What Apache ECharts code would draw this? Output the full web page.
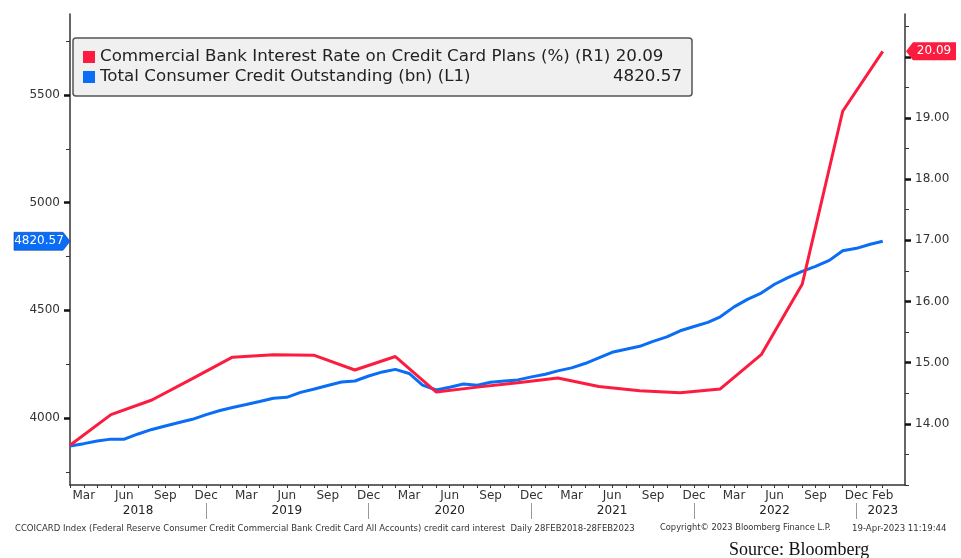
<!DOCTYPE html>
<html>
<head>
<meta charset="utf-8">
<script src="https://cdn.jsdelivr.net/npm/echarts@6/dist/echarts.min.js"></script>
<style>html,body{margin:0;padding:0;background:#fff;}#chart{width:961px;height:558px;}</style>
</head>
<body>
<div id="chart"></div>
<script>
// ---- data ----
var startYear = 2018, startMonth = 1; // Feb 2018 (0-based month)
var monthCount = 61;                  // Feb 2018 .. Feb 2023 month ends
var consumerCredit = [3870, 3881, 3893, 3902, 3902, 3926, 3947, 3963, 3979, 3994, 4016, 4035,
  4049, 4063, 4077, 4092, 4096, 4119, 4135, 4151, 4167, 4172, 4195, 4214,
  4226, 4207, 4153, 4130, 4143, 4158, 4152, 4166, 4172, 4177, 4191, 4203,
  4219, 4233, 4253, 4279, 4305, 4319, 4333, 4356, 4377, 4405, 4425, 4444,
  4470, 4516, 4551, 4580, 4621, 4653, 4681, 4704, 4732, 4777, 4788, 4807, 4820.57];
var cardRate = [13.65, 14.15, 14.39, 14.74, 15.09, 15.13, 15.12, 14.88, 15.10, 14.52, 14.60,
  14.67, 14.75, 14.61, 14.54, 14.51, 14.57, 15.13, 16.28, 19.11, 20.09]; // quarterly: Feb, May, Aug, Nov
var rateName = 'Commercial Bank Interest Rate on Credit Card Plans (%) (R1)';
var creditName = 'Total Consumer Credit Outstanding (bn) (L1)';
var lastRate = '20.09', lastCredit = '4820.57';
var leftLabels = [4000, 4500, 5000, 5500];
var leftMinor = [3750, 4250, 4750, 5250, 5750];
var rightLabels = [14, 15, 16, 17, 18, 19, 20];
var rightMinor = [13, 13.5, 14.5, 15.5, 16.5, 17.5, 18.5, 19.5, 20.5];
var monthNames = ['Jan','Feb','Mar','Apr','May','Jun','Jul','Aug','Sep','Oct','Nov','Dec'];
var monthLabelIdx = [1,4,7,10,13,16,19,22,25,28,31,34,37,40,43,46,49,52,55,58,60];
var yearLabelIdx = [5,16,28,40,52,60];
var yearSepIdx = [10,22,34,46,58];
var xMin = Date.UTC(2018, 1, 28), xMax = Date.UTC(2023, 3, 19);

// ---- build ----
var dates = [];
for (var i = 0; i < monthCount; i++) dates.push(Date.UTC(startYear, startMonth + i + 1, 0));
var blueData = consumerCredit.map(function (v, i) { return [dates[i], v]; });
var redData = cardRate.map(function (v, k) { return [dates[k * 3], v]; });
var pick = function (arr) { return arr.map(function (i) { return dates[i]; }); };

var FONT = 'DejaVu Sans';
var RED = '#fc1c40', BLUE = '#0a6df5', AX = '#333';

var chart = echarts.init(document.getElementById('chart'), null, {renderer: 'canvas'});
var baseY = function (pos, min, max, labels, minor) {
  return {
    type: 'value', position: pos, min: min, max: max,
    splitLine: {show: false},
    axisLine: {show: true, lineStyle: {color: AX, width: 1.5}},
    axisTick: {show: true, length: 4, customValues: minor, lineStyle: {color: AX, width: 1}},
    axisLabel: {show: true, customValues: labels, margin: 10, color: '#333', fontFamily: FONT, fontSize: 12,
      formatter: function (v) { return pos === 'right' ? Number(v).toFixed(2) : String(v); }}
  };
};
var yL = baseY('left', 3689, 5876, leftLabels, leftMinor);
var yR = baseY('right', 13, 20.7, rightLabels, rightMinor);
var yL2 = {type: 'value', position: 'left', min: 3689, max: 5876, splitLine: {show: false},
  axisLine: {show: false}, axisLabel: {show: false},
  axisTick: {show: true, length: 6, customValues: leftLabels, lineStyle: {color: '#111', width: 2.5}}};
var yR2 = {type: 'value', position: 'right', min: 13, max: 20.7, splitLine: {show: false},
  axisLine: {show: false}, axisLabel: {show: false},
  axisTick: {show: true, length: 6, customValues: rightLabels, lineStyle: {color: '#111', width: 2.5}}};

var LF = 16.7;
var option = {
  backgroundColor: '#fff',
  animation: false,
  grid: {left: 70, right: 56, top: 14, bottom: 73, containLabel: false},
  legend: {
    show: true, orient: 'vertical', left: 73, top: 38,
    data: [rateName, creditName],
    icon: 'rect', itemWidth: 12, itemHeight: 12, itemGap: 0,
    backgroundColor: '#f0f0f0', borderColor: '#555', borderWidth: 1.5, borderRadius: 3,
    padding: [9, 10, 9, 10],
    textStyle: {fontFamily: FONT, fontSize: LF, color: '#222', lineHeight: 20,
      rich: {
        a: {fontFamily: FONT, fontSize: LF, color: '#222', lineHeight: 20, width: 582, align: 'left'},
        n: {fontFamily: FONT, fontSize: LF, color: '#222', lineHeight: 20, width: 482, align: 'left'},
        v: {fontFamily: FONT, fontSize: LF, color: '#222', lineHeight: 20, width: 100, align: 'right'}
      }},
    formatter: function (name) {
      if (name === rateName) return '{a|' + name + ' ' + lastRate + '}';
      return '{n|' + name + '}{v|' + lastCredit + '}';
    }
  },
  xAxis: [{
    type: 'value', min: xMin, max: xMax, position: 'bottom',
    splitLine: {show: false},
    axisLine: {show: true, lineStyle: {color: AX, width: 1.5}},
    axisTick: {show: true, length: 3, customValues: dates, lineStyle: {color: AX, width: 1}},
    axisLabel: {show: true, customValues: pick(monthLabelIdx), margin: 5, color: '#333',
      fontFamily: FONT, fontSize: 12,
      formatter: function (v) { return monthNames[new Date(v).getUTCMonth()]; }}
  }, {
    type: 'value', min: xMin, max: xMax, position: 'bottom', offset: 18,
    splitLine: {show: false},
    axisLine: {show: false},
    axisTick: {show: true, length: 16, customValues: pick(yearSepIdx), lineStyle: {color: '#999', width: 1}},
    axisLabel: {show: true, customValues: pick(yearLabelIdx), margin: 2, color: '#222',
      fontFamily: FONT, fontSize: 12,
      formatter: function (v) { return String(new Date(v).getUTCFullYear()); }}
  }],
  yAxis: [yL, yR, yL2, yR2],
  series: [{
    name: rateName, type: 'line', xAxisIndex: 0, yAxisIndex: 1, data: redData,
    showSymbol: false, symbol: 'none', color: RED,
    lineStyle: {color: RED, width: 3}, z: 3,
    markPoint: {
      symbol: 'path://M0,9 L7,0 L50,0 L50,18 L7,18 Z', symbolSize: [50, 18], symbolKeepAspect: false,
      symbolOffset: [26, 0], itemStyle: {color: RED},
      label: {show: true, position: 'inside', color: '#fff', fontFamily: FONT, fontSize: 12, offset: [3, 0],
        formatter: lastRate},
      data: [{coord: [xMax, 20.09]}]
    }
  }, {
    name: creditName, type: 'line', xAxisIndex: 0, yAxisIndex: 0, data: blueData,
    showSymbol: false, symbol: 'none', color: BLUE,
    lineStyle: {color: BLUE, width: 3}, z: 2,
    markPoint: {
      symbol: 'path://M0,0 L49,0 L56,9 L49,18 L0,18 Z', symbolSize: [56, 18], symbolKeepAspect: false,
      symbolOffset: [-28, 0], itemStyle: {color: BLUE, borderColor: '#0040a0', borderWidth: 0.5},
      label: {show: true, position: 'inside', color: '#fff', fontFamily: FONT, fontSize: 12, offset: [-3, 0],
        formatter: lastCredit},
      data: [{coord: [xMin, 4820.57]}]
    }
  }],
  graphic: [
    {type: 'text', left: 15, top: 524, style: {text: 'CCOICARD Index (Federal Reserve Consumer Credit Commercial Bank Credit Card All Accounts) credit card interest  Daily 28FEB2018-28FEB2023', font: '8.5px "DejaVu Sans"', fill: '#333'}},
    {type: 'text', left: 660, top: 524, style: {text: 'Copyright\u00a9 2023 Bloomberg Finance L.P.', font: '8.3px "DejaVu Sans"', fill: '#333'}},
    {type: 'text', left: 852, top: 524, style: {text: '19-Apr-2023 11:19:44', font: '8.6px "DejaVu Sans"', fill: '#333'}},
    {type: 'text', left: 729, top: 541, style: {text: 'Source: Bloomberg', font: '18px "Liberation Serif"', fill: '#111'}}
  ]
};
chart.setOption(option);
</script>
</body>
</html>
